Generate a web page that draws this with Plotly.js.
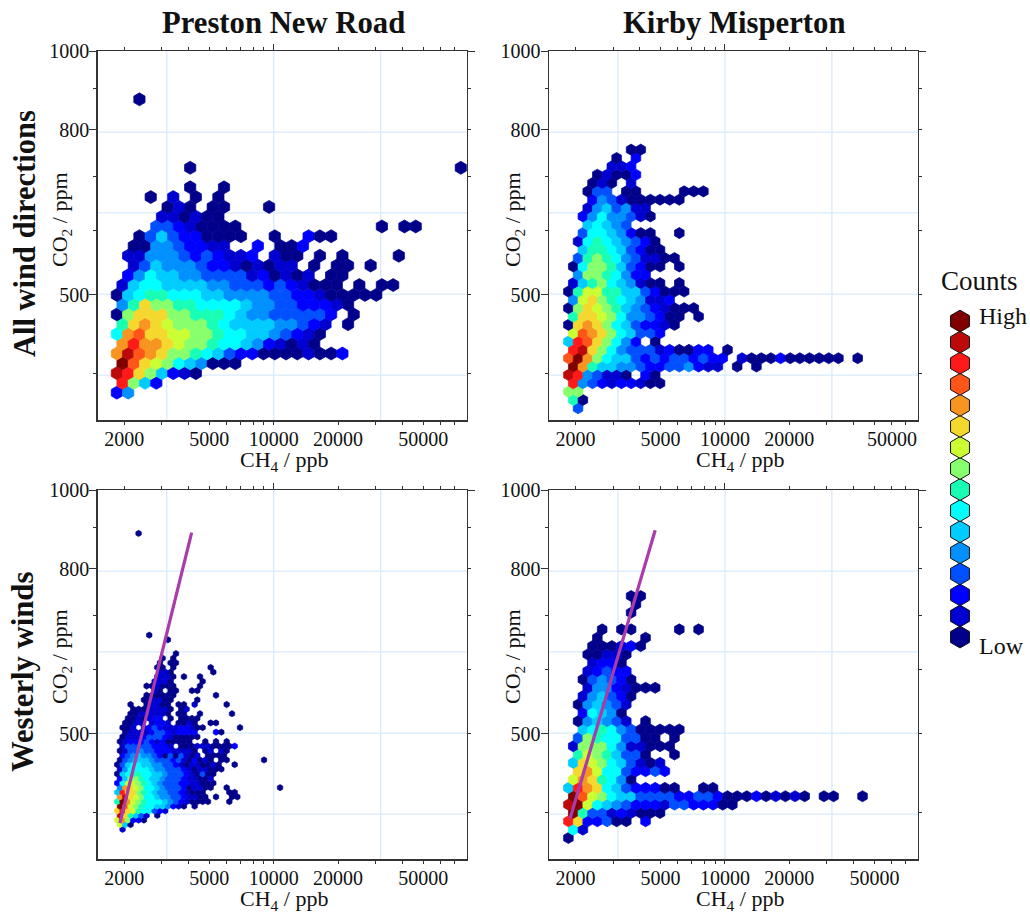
<!DOCTYPE html>
<html><head><meta charset="utf-8">
<script src="https://cdn.plot.ly/plotly-3.0.1.min.js"></script>
<style>html,body{margin:0;padding:0;background:#fff}</style></head>
<body><div id="chart" style="width:1030px;height:915px"></div>
<script>
// Count classes, low to high (legend order)
const countColors = ['#00008b','#0000d0','#0000ff','#0050ff','#0090ff','#00ccff','#00ffff','#18ffb5','#88ff6c','#ccff33','#f4d82e','#f79520','#ff5518','#ff1a1a','#bc0a0a','#800000'];
const levelCodes = '0123456789abcdef';
const ch4Ticks = [2000,5000,10000,20000,50000];
const ch4TickLabels = ['2000','5000','10000','20000','50000'];
const ch4Minor = [3000,4000,6000,7000,8000,9000,30000,40000,60000,70000];
const co2Ticks = [500,800,1000];
const co2TickLabels = ['500','800','1000'];
const co2Minor = [400,600,700,900];
const ch4Grid = [3162,10000,31623];
const co2Grid = [398,501,631,794];

// Hexagon bin centres (log10 CH4 / log10 CO2), bin classes per row
const pnrAllCh4Log = [3.2667,3.2931,3.3194,3.3458,3.3721,3.3985,3.4249,3.4512,3.4776,3.5039,3.5303,3.5567,3.5830,3.6094,3.6358,3.6621,3.6885,3.7148,3.7412,3.7676,3.7939,3.8203,3.8466,3.8730,3.8994,3.9257,3.9521,3.9784,4.0048,4.0312,4.0575,4.0839,4.1102,4.1366,4.1630,4.1893,4.2157,4.2420,4.2684,4.2948,4.3211,4.3475,4.3738,4.4002,4.4266,4.4529,4.4793,4.5056,4.5320,4.5584,4.5847,4.6111,4.6374,4.6638,4.6902,4.7165,4.7429,4.7692,4.7956,4.8220,4.8483,4.8747];
const pnrAllCo2Log = [2.5782,2.5903,2.6023,2.6144,2.6265,2.6386,2.6506,2.6627,2.6748,2.6868,2.6989,2.7110,2.7230,2.7351,2.7472,2.7593,2.7713,2.7834,2.7955,2.8075,2.8196,2.8317,2.8437,2.8558,2.8679,2.8800,2.8920,2.9041,2.9162,2.9282,2.9403];
const pnrAllRows = [
"24","d852","eda85210","fca98654000","becba8876532200001002","bdbba9887665421010","6bcaa99887665543210",
"7aba988876555544321.0","08aaa887776544333332.0","47a887766665443322210","056776665544443322100000",
"15665555443332321000.0.00",".24655443333120101.00",".135444322101011.0.00.0",".114443232112.100.0.0....0",
".004432211..2.002","..0353220000..0..200","...33210000............0.00","....110100","....010.00...0",
"...0.1.0.0","......0..0","","......0.......................0","","","","","","","..0"];

const kmCh4Log = [3.2683,3.2908,3.3134,3.3359,3.3585,3.3810,3.4035,3.4261,3.4486,3.4712,3.4937,3.5162,3.5388,3.5613,3.5839,3.6064,3.6289,3.6515,3.6740,3.6966,3.7191,3.7416,3.7642,3.7867,3.8093,3.8318,3.8543,3.8769,3.8994,3.9220,3.9445,3.9670,3.9896,4.0121,4.0347,4.0572,4.0797,4.1023,4.1248,4.1474,4.1699,4.1924,4.2150,4.2375,4.2601,4.2826,4.3051,4.3277,4.3502,4.3728,4.3953,4.4178,4.4404,4.4629,4.4855,4.5080,4.5305,4.5531,4.5756,4.5982,4.6207,4.6433];
const kmAllCo2Log = [2.5589,2.5692,2.5795,2.5898,2.6001,2.6104,2.6207,2.6310,2.6413,2.6516,2.6619,2.6722,2.6825,2.6928,2.7031,2.7134,2.7237,2.7340,2.7443,2.7546,2.7649,2.7752,2.7855,2.7958,2.8061,2.8164,2.8267,2.8370,2.8473,2.8576,2.8679,2.8782];
const kmAllRows = [
".3","70","88","d432122100","ed43110.20","fb75544322334211.0.0","cfb86553232332322.10002000000.0",
"dea864333120022.0","5dca8642.0","9cba865332","0aba86532210","7aa986443200.0","08a98754321000","49a87654112",
"0799775532000","1578654100.0",".48876422","0688753200.0",".37876431100",".577653200",".167654320",".36654200..0",
"..56543",".24644310","..1453411","..2431000000","..033.00....000","..010.1","...01002","....112",".....0.2","......00"];

const pnrWestCh4Log = [3.2683,3.2808,3.2933,3.3057,3.3182,3.3307,3.3432,3.3557,3.3681,3.3806,3.3931,3.4056,3.4181,3.4305,3.4430,3.4555,3.4680,3.4805,3.4929,3.5054,3.5179,3.5304,3.5429,3.5553,3.5678,3.5803,3.5928,3.6053,3.6177,3.6302,3.6427,3.6552,3.6677,3.6801,3.6926,3.7051,3.7176,3.7301,3.7425,3.7550,3.7675,3.7800,3.7925,3.8049,3.8174,3.8299,3.8424,3.8549,3.8673,3.8798,3.8923,3.9048,3.9173,3.9297,3.9422,3.9547,3.9672,3.9797,3.9921,4.0046,4.0171,4.0296];
const pnrWestCo2Log = [2.5811,2.5868,2.5925,2.5982,2.6039,2.6096,2.6153,2.6211,2.6268,2.6325,2.6382,2.6439,2.6496,2.6553,2.6610,2.6667,2.6724,2.6781,2.6838,2.6895,2.6953,2.7010,2.7067,2.7124,2.7181,2.7238,2.7295,2.7352,2.7409,2.7466,2.7523,2.7580,2.7638,2.7695,2.7752,2.7809,2.7866,2.7923,2.7980,2.8037,2.8094,2.8151,2.8208,2.8265,2.8322,2.8379,2.8436,2.8494,2.8551,2.8608,2.8665,2.8722,2.8779,2.8836,2.8893,2.8950,2.9007,2.9064,2.9121,2.9178,2.9236,2.9293,2.9350,2.9407,2.9464];
const pnrWestRows = [
".1","950","9b8220","ea7531.0","ada9766321","fc98766554210.0","7fb987666543210000...0","bea98665443321100.0..00",
"5daa8765443321000....00","4ba986654333201100..0.........0","2699876543332211000","258876554333211001",
"0567766554333210300","14666654433321011000","03566554433210110010..0","034555433323102010.00......0",
".234544320303101.0000","013343322211110.01.10",".1333332221.00011100002","01222321200000..0.0.0",
".011123332100000",".01111233212222...20",".001.123211122100......0",".0011.1221.0010..00","..0010122.0.0000",
"..00111110.00..0.....0","...00011110.01","..0..01100.00.1.....0",".....001100....0",".....000000.......0",
".......10.00..00",".....001000....0",".......1110.....0",".......1110.0..0","........110.......0",
".......00.0......0","........0.00","........0.0","...........0","","",".........0","......0",
"","","","","","","","","","","","","","","","","","","","","","....0"];

const kmWestCo2Log = [2.5704,2.5807,2.5910,2.6013,2.6116,2.6219,2.6322,2.6425,2.6528,2.6631,2.6734,2.6837,2.6940,2.7043,2.7146,2.7249,2.7352,2.7455,2.7558,2.7661,2.7764,2.7867,2.7970,2.8073,2.8176,2.8279,2.8382,2.8485,2.8588,2.8691];
const kmWestRows = [
"0","61","da22300.2","f733121000","ef9654322213322200","fc98655333322332000201010.00..0","5dba65322200..00","9ba7640",
".ab96632232","5a98653101",".79875330..0","18886411000",".387663300.0",".56764300000",".045431.0",".26540",".045431",
".145320","..14421000",".034320","..12322","..1220","..00110","..000120","...0....0","...0.00....0.0","","......0",".......0","......00"];

const pnrWestFitCh4 = [1909,4133];
const pnrWestFitCo2 = [388,886];
const kmWestFitCh4 = [1888,4720];
const kmWestFitCo2 = [393,892];
const legendRanks = [0,1,2,3,4,5,6,7,8,9,10,11,12,13,14,15];

function cells(colsLog, rowsLog, rows){
  const out = {x:[],y:[],c:[]};
  rows.forEach((s,r)=>{
    for(let k=0;k<s.length;k++){
      if(s[k]==='.') continue;
      out.x.push(Math.pow(10,colsLog[2*k+(r%2)]));
      out.y.push(Math.pow(10,rowsLog[r]));
      out.c.push(countColors[levelCodes.indexOf(s[k])]);
    }
  });
  return out;
}

const W=1030,H=915;
const fontFam='"Liberation Serif","Times New Roman",serif';
const tickFont={family:fontFam,size:20,color:'#111'};
const axisColor='#333';
const panels=[
 {l:97.5,t:51,hex:13.0,seam:0.7,data:cells(pnrAllCh4Log,pnrAllCo2Log,pnrAllRows)},
 {l:548.7,t:51,hex:11.1,seam:0.7,data:cells(kmCh4Log,kmAllCo2Log,kmAllRows),shiftLast:true},
 {l:97.5,t:490,hex:6.3,seam:0.6,data:cells(pnrWestCh4Log,pnrWestCo2Log,pnrWestRows),fit:[pnrWestFitCh4,pnrWestFitCo2]},
 {l:548.7,t:490,hex:11.1,seam:0.7,data:cells(kmCh4Log,kmWestCo2Log,kmWestRows),fit:[kmWestFitCh4,kmWestFitCo2]}
];
const xRange=[Math.log10(1500),Math.log10(80000)], yRange=[Math.log10(350),3];
const layout={width:W,height:H,margin:{l:0,r:0,t:0,b:0},paper_bgcolor:'#fff',plot_bgcolor:'rgba(0,0,0,0)',showlegend:false,
  font:{family:fontFam,color:'#111'},shapes:[],annotations:[],hovermode:false};
const traces=[];
panels.forEach((p,i)=>{
  const n=i+1, o=i+5;
  const xd=[p.l/W,(p.l+369.4)/W], yd=[1-(p.t+369.3)/H,1-p.t/H];
  const sfx=a=>a===1?'':String(a);
  const labels=ch4TickLabels.map((t,j)=>(p.shiftLast&&j===4)?'\u00a0\u00a0\u00a0\u00a0\u00a0\u00a0\u00a0'+t:t);
  layout['xaxis'+sfx(n)]={type:'log',range:xRange,domain:xd,anchor:'y'+sfx(n),showgrid:false,zeroline:false,
    showline:true,linecolor:axisColor,linewidth:1.2,ticks:'outside',ticklen:3,tickwidth:1,tickcolor:axisColor,
    tickmode:'array',tickvals:ch4Ticks,ticktext:labels,tickfont:tickFont,tickangle:0,ticklabelstandoff:-3,
    minor:{tickmode:'array',tickvals:ch4Minor,ticks:'outside',ticklen:3,tickwidth:1,tickcolor:axisColor,showgrid:false}};
  layout['yaxis'+sfx(n)]={type:'log',range:yRange,domain:yd,anchor:'x'+sfx(n),showgrid:false,zeroline:false,
    showline:true,linecolor:axisColor,linewidth:1.2,ticks:'outside',ticklen:7,tickwidth:1,tickcolor:axisColor,
    tickmode:'array',tickvals:co2Ticks,ticktext:co2TickLabels,tickfont:tickFont,ticklabelstandoff:-4,
    minor:{tickmode:'array',tickvals:co2Minor,ticks:'outside',ticklen:3,tickwidth:1,tickcolor:axisColor,showgrid:false}};
  layout['xaxis'+o]={type:'log',range:xRange,domain:xd,overlaying:'x'+sfx(n),side:'top',anchor:'y'+sfx(n),showgrid:false,zeroline:false,
    showline:true,linecolor:axisColor,linewidth:1.2,ticks:'outside',ticklen:6,tickwidth:1,tickcolor:axisColor,
    tickmode:'array',tickvals:[10000],showticklabels:false,
    minor:{tickmode:'array',tickvals:ch4Ticks.concat(ch4Minor).filter(v=>v!==10000),ticks:'outside',ticklen:3,tickwidth:1,tickcolor:axisColor,showgrid:false}};
  layout['yaxis'+o]={type:'log',range:yRange,domain:yd,overlaying:'y'+sfx(n),side:'right',anchor:'x'+sfx(n),showgrid:false,zeroline:false,
    showline:true,linecolor:axisColor,linewidth:1.2,ticks:'outside',ticklen:7,tickwidth:1,tickcolor:axisColor,
    tickmode:'array',tickvals:[1000],showticklabels:false,
    minor:{tickmode:'array',tickvals:co2Ticks.concat(co2Minor).filter(v=>v!==1000),ticks:'outside',ticklen:3,tickwidth:1,tickcolor:axisColor,showgrid:false}};
  ch4Grid.forEach(v=>layout.shapes.push({type:'line',layer:'below',xref:'x'+sfx(n),yref:'y'+sfx(n)+' domain',x0:v,x1:v,y0:0,y1:1,line:{color:'#d9eafc',width:1.3}}));
  co2Grid.forEach(v=>layout.shapes.push({type:'line',layer:'below',yref:'y'+sfx(n),xref:'x'+sfx(n)+' domain',y0:v,y1:v,x0:0,x1:1,line:{color:'#d9eafc',width:1.3}}));
  traces.push({type:'scatter',mode:'markers',x:p.data.x,y:p.data.y,xaxis:'x'+sfx(n),yaxis:'y'+sfx(n),hoverinfo:'skip',cliponaxis:true,
    marker:{symbol:'hexagon',size:p.hex,color:p.data.c,line:{color:p.data.c,width:p.seam}}});
  if(p.fit) traces.push({type:'scatter',mode:'lines',x:p.fit[0],y:p.fit[1],xaxis:'x'+sfx(n),yaxis:'y'+sfx(n),hoverinfo:'skip',line:{color:'#a93bab',width:3.2}});
  traces.push({type:'scatter',mode:'markers',x:[],y:[],xaxis:'x'+o,yaxis:'y'+o,hoverinfo:'skip'});
  // axis titles
  const cx=(i%2===0)?284:740, tx=(i%2===0)?61:514, cy=(i<2)?220:657, xy=(i<2)?461:900;
  layout.annotations.push({xref:'paper',yref:'paper',x:cx/W,y:1-xy/H,xanchor:'center',yanchor:'middle',showarrow:false,text:'CH<sub>4</sub> / ppb',font:{size:22,family:fontFam,color:'#111'}});
  layout.annotations.push({xref:'paper',yref:'paper',x:tx/W,y:1-cy/H,xanchor:'center',yanchor:'middle',showarrow:false,textangle:-90,text:'CO<sub>2</sub> / ppm',font:{size:22,family:fontFam,color:'#111'}});
});
// Colour-key column
layout.xaxis9={domain:[950/W,970/W],range:[0,1],visible:false,anchor:'y9'};
layout.yaxis9={domain:[1-660/H,1-300/H],range:[-1.09,16],visible:false,anchor:'x9'};
traces.push({type:'scatter',mode:'markers',x:legendRanks.map(()=>0.5),y:legendRanks,xaxis:'x9',yaxis:'y9',hoverinfo:'skip',cliponaxis:false,
  marker:{symbol:'hexagon',size:21.8,color:legendRanks.map(r=>countColors[r]),line:{color:'#111',width:1}}});
function note(text,x,y,size,opts){layout.annotations.push(Object.assign({xref:'paper',yref:'paper',x:x/W,y:1-y/H,xanchor:'center',yanchor:'middle',showarrow:false,text:text,font:{family:fontFam,size:size,color:'#111'}},opts||{}));}
note('<b>Preston New Road</b>',283.5,23,30.7);
note('<b>Kirby Misperton</b>',733.5,23,30.7);
note('<b>All wind directions</b>',25,234,30.5,{textangle:-90});
note('<b>Westerly winds</b>',23,672,30.7,{textangle:-90});
note('Counts',979.5,281,27);
note('High',977,316,24,{xanchor:'left'});
note('Low',977,646,24,{xanchor:'left'});
Plotly.newPlot('chart',traces,layout,{displayModeBar:false,staticPlot:true});
</script></body></html>
